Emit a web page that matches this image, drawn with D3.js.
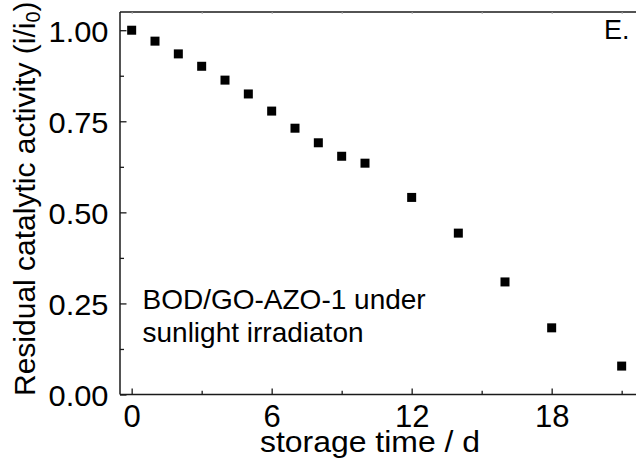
<!DOCTYPE html>
<html>
<head>
<meta charset="utf-8">
<script src="https://cdn.jsdelivr.net/npm/d3@7"></script>
<style>
  html, body { margin: 0; padding: 0; background: #fff; }
  svg { display: block; font-family: "Liberation Sans", Arial, sans-serif; }
</style>
</head>
<body>
<svg id="chart" width="636" height="459"></svg>
<script>
// Storage stability data: days of storage vs. residual activity
const days = [0, 1, 2, 3, 4, 5, 6, 7, 8, 9, 10, 12, 14, 16, 18, 21];
const activity = [1.00, 0.970, 0.935, 0.901, 0.863, 0.825, 0.778, 0.731, 0.691, 0.654, 0.635, 0.541, 0.443, 0.309, 0.183, 0.078];
const xMajorTicks = [0, 6, 12, 18];
const xMinorTicks = [3, 9, 15, 21];
const yMajorTicks = [0, 0.25, 0.5, 0.75, 1.0];
const yMinorTicks = [0.125, 0.375, 0.625, 0.875];
const xTitle = "storage time / d";
const yTitle = "Residual catalytic activity (i/i";
const note = ["BOD/GO-AZO-1 under", "sunlight irradiaton"];
const panel = "E.";

const svg = d3.select("#chart");
const plotLeft = 120, plotTop = 12, plotBottom = 394.5, plotRight = 645;

const x = d3.scaleLinear().domain([-0.5, 22]).range([plotLeft, plotRight]);
const y = d3.scaleLinear().domain([0, 1.05]).range([plotBottom, plotTop]);

const ink = "#1a1a1a";

// frame: left, bottom, top
svg.append("line").attr("x1", plotLeft).attr("x2", plotLeft).attr("y1", plotTop).attr("y2", plotBottom)
  .attr("stroke", ink).attr("stroke-width", 1.5);
svg.append("line").attr("x1", plotLeft).attr("x2", 636).attr("y1", plotBottom).attr("y2", plotBottom)
  .attr("stroke", ink).attr("stroke-width", 1.5);
svg.append("line").attr("x1", plotLeft).attr("x2", 636).attr("y1", plotTop).attr("y2", plotTop)
  .attr("stroke", ink).attr("stroke-width", 1.5);

// bottom axis: inward ticks
const gx = svg.append("g").attr("transform", `translate(0,${plotBottom})`)
  .call(d3.axisBottom(x).tickValues(xMajorTicks).tickSizeInner(-6).tickSizeOuter(0).tickPadding(10));
gx.select(".domain").remove();
gx.selectAll(".tick line").attr("stroke", ink).attr("stroke-width", 1.3);
gx.selectAll(".tick text").attr("fill", "#000").attr("font-size", 31)
  .attr("font-family", "Liberation Sans, Arial, sans-serif")
  .attr("y", 32).attr("dy", null);

const gxm = svg.append("g").attr("transform", `translate(0,${plotBottom})`)
  .call(d3.axisBottom(x).tickValues(xMinorTicks).tickSizeInner(-3.7).tickSizeOuter(0).tickFormat(""));
gxm.select(".domain").remove();
gxm.selectAll(".tick line").attr("stroke", ink).attr("stroke-width", 1.3);

// top axis: faint mirror ticks
const gt = svg.append("g").attr("transform", `translate(0,${plotTop})`)
  .call(d3.axisTop(x).tickValues(xMajorTicks.concat(xMinorTicks)).tickSizeInner(-2).tickSizeOuter(0).tickFormat(""));
gt.select(".domain").remove();
gt.selectAll(".tick line").attr("stroke", "#aaa").attr("stroke-width", 1);

// left axis: inward ticks
const gy = svg.append("g").attr("transform", `translate(${plotLeft},0)`)
  .call(d3.axisLeft(y).tickValues(yMajorTicks).tickSizeInner(-6.5).tickSizeOuter(0)
    .tickFormat(d3.format(".2f")).tickPadding(12));
gy.select(".domain").remove();
gy.selectAll(".tick line").attr("stroke", ink).attr("stroke-width", 1.3);
gy.selectAll(".tick text").attr("fill", "#000").attr("font-size", 30)
  .attr("font-family", "Liberation Sans, Arial, sans-serif")
  .attr("x", -11.5).attr("dy", "0.36em")
  .attr("textLength", 60).attr("lengthAdjust", "spacingAndGlyphs");

const gym = svg.append("g").attr("transform", `translate(${plotLeft},0)`)
  .call(d3.axisLeft(y).tickValues(yMinorTicks).tickSizeInner(-4).tickSizeOuter(0).tickFormat(""));
gym.select(".domain").remove();
gym.selectAll(".tick line").attr("stroke", ink).attr("stroke-width", 1.3);

// data points
const s = 9;
svg.append("g").selectAll("rect").data(days).join("rect")
  .attr("x", (d) => x(d) - s / 2)
  .attr("y", (d, i) => y(activity[i]) - s / 2)
  .attr("width", s).attr("height", s)
  .attr("fill", "#000");

// axis titles
svg.append("text")
  .attr("x", 370).attr("y", 451.5)
  .attr("text-anchor", "middle")
  .attr("font-size", 30)
  .attr("textLength", 220).attr("lengthAdjust", "spacingAndGlyphs")
  .text(xTitle);

const yt = svg.append("text")
  .attr("transform", "translate(35,396) rotate(-90)")
  .attr("x", 0).attr("y", 0)
  .attr("font-size", 30);
yt.append("tspan").text(yTitle);
yt.append("tspan").attr("font-size", 20).attr("dy", 5).text("0");
yt.append("tspan").attr("dy", -5).text(")");

// annotation
svg.append("text").attr("x", 142.5).attr("y", 308.5).attr("font-size", 28).text(note[0]);
svg.append("text").attr("x", 142.5).attr("y", 342).attr("font-size", 28).text(note[1]);

// panel label
svg.append("text").attr("x", 604).attr("y", 39).attr("font-size", 27).text(panel);
</script>
</body>
</html>
